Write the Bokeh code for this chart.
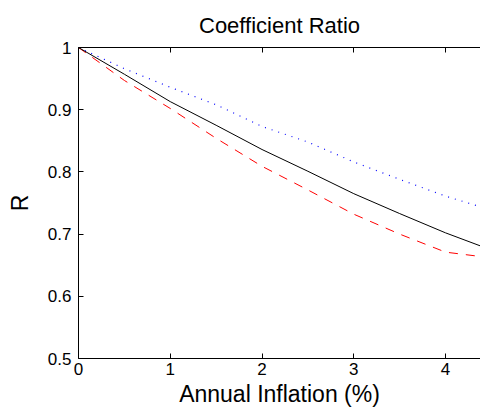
from bokeh.plotting import figure
from bokeh.models import Range1d, LinearAxis, FixedTicker
from bokeh.embed import file_html
from bokeh.resources import INLINE

inflation = [0, 0.5, 1, 1.5, 2, 2.5, 3, 3.5, 4, 4.38]
r_solid = [1.0, 0.957, 0.913, 0.875, 0.836, 0.801, 0.765, 0.733, 0.702, 0.681]
r_dotted = [1.0, 0.966, 0.936, 0.908, 0.873, 0.848, 0.816, 0.788, 0.761, 0.744]
r_dashed = [1.0, 0.947, 0.902, 0.854, 0.809, 0.771, 0.732, 0.700, 0.671, 0.664]

x_ticks = [0, 1, 2, 3, 4]
y_ticks = [0.5, 0.6, 0.7, 0.8, 0.9, 1.0]
y_tick_labels = ["0.5", "0.6", "0.7", "0.8", "0.9", "1"]

FONT = "Liberation Sans"

p = figure(width=480, height=415, x_range=Range1d(0, 4.381), y_range=Range1d(0.5, 1.0),
           output_backend="svg", toolbar_location=None,
           min_border_left=78, min_border_right=0, min_border_top=46, min_border_bottom=57,
           title="Coefficient Ratio", x_axis_label="Annual Inflation (%)", y_axis_label="R")

p.title.text_font = FONT
p.title.text_font_size = "22px"
p.title.text_font_style = "normal"
p.title.align = "center"
p.title.offset = 12
p.title.standoff = 20
p.title.text_color = "black"

p.outline_line_color = None
p.background_fill_color = "white"
p.border_fill_color = "white"
p.xgrid.visible = False
p.ygrid.visible = False

for ax in (p.xaxis[0], p.yaxis[0]):
    ax.axis_line_color = "black"
    ax.major_tick_line_color = "black"
    ax.minor_tick_line_color = None
    ax.major_tick_in = 5
    ax.major_tick_out = 0
    ax.major_label_text_font = FONT
    ax.major_label_text_font_size = "17px"
    ax.major_label_text_color = "black"
    ax.axis_label_text_font = FONT
    ax.axis_label_text_font_style = "normal"
    ax.axis_label_text_color = "black"
    ax.axis_label_text_font_size = "23px"

p.xaxis[0].ticker = FixedTicker(ticks=x_ticks)
p.xaxis[0].major_label_standoff = 4
p.xaxis[0].axis_label_standoff = 3
p.yaxis[0].ticker = FixedTicker(ticks=y_ticks)
p.yaxis[0].major_label_overrides = dict(zip(y_ticks, y_tick_labels))
p.yaxis[0].major_label_standoff = 7
p.yaxis[0].axis_label_standoff = 12

top = LinearAxis(ticker=FixedTicker(ticks=x_ticks), major_tick_in=5, major_tick_out=0,
                 minor_tick_line_color=None, major_label_text_font_size="1px",
                 major_label_overrides={t: "" for t in x_ticks},
                 major_label_standoff=0, axis_line_color="black", major_tick_line_color="black")
p.add_layout(top, "above")

p.line(inflation, r_dotted, line_color="blue", line_width=1.2, line_dash="1 6")
p.line(inflation, r_dashed, line_color="red", line_width=1, line_dash="9 8")
p.line(inflation, r_solid, line_color="black", line_width=1)

open("out.html", "w").write(file_html(p, INLINE))
